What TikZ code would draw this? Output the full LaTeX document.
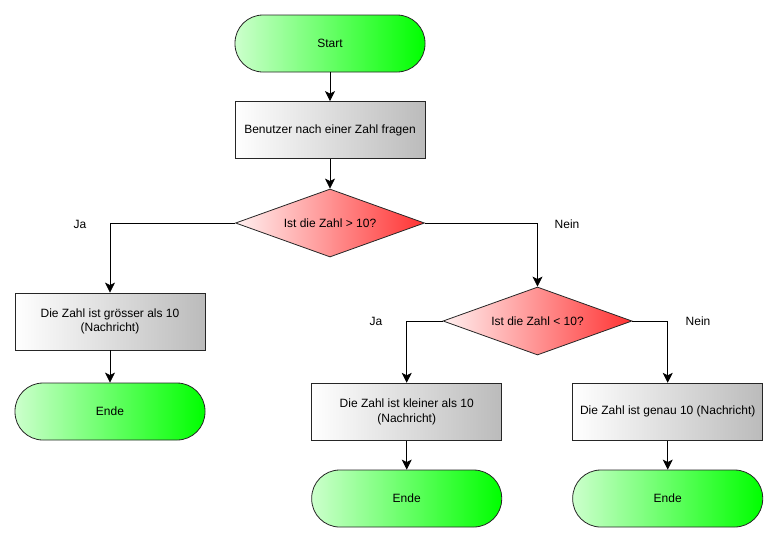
\documentclass[tikz,border=0pt]{standalone}
\usepackage{fontspec}
\setmainfont{Liberation Sans}
\usetikzlibrary{shapes.geometric,arrows.meta}
\definecolor{termL}{HTML}{CCFFCC}
\definecolor{termR}{HTML}{00FF00}
\definecolor{procL}{HTML}{FFFFFF}
\definecolor{procR}{HTML}{BBBBBB}
\definecolor{decL}{HTML}{FFF0F0}
\definecolor{decR}{HTML}{FF3333}
\tikzset{
  labelfont/.style={font=\fontsize{12}{14.6}\selectfont},
  terminal/.style={draw=black!85, line width=0.8pt, rounded corners=28pt,
    minimum width=190pt, minimum height=57pt, inner sep=0pt,
    left color=termL, right color=termR, labelfont},
  process/.style={draw=black!85, line width=0.8pt, rectangle,
    minimum width=190pt, minimum height=57pt, inner sep=0pt, align=center,
    left color=procL, right color=procR, labelfont},
  decision/.style={draw=black!85, line width=0.8pt, diamond, aspect=2.78,
    minimum width=189pt, minimum height=68pt, inner sep=0pt,
    left color=decL, right color=decR, labelfont},
  flow/.style={draw=black, line width=0.8pt, -{Stealth[length=10pt,width=10pt,inset=2.5pt]}},
  branch/.style={labelfont}
}
\begin{document}
\begin{tikzpicture}[x=1pt,y=-1pt]
  \useasboundingbox (0,0) rectangle (778,542);

  % main column
  \node[terminal] (start) at (330,43.5) {Start};
  \node[process]  (ask)   at (330,130)  {Benutzer nach einer Zahl fragen};
  \node[decision] (gt)    at (330,223)  {Ist die Zahl > 10?};

  % left branch: greater than ten
  \node[process]  (big)   at (110,321.5) {Die Zahl ist grösser als 10\\(Nachricht)};
  \node[terminal] (end1)  at (110,411.5) {Ende};

  % right branch: second decision
  \node[decision] (lt)    at (537.5,321) {Ist die Zahl < 10?};
  \node[process]  (small) at (406.7,411.7) {Die Zahl ist kleiner als 10\\(Nachricht)};
  \node[terminal] (end2)  at (406.7,498.5) {Ende};
  \node[process]  (equal) at (667.7,411.7) {Die Zahl ist genau 10 (Nachricht)};
  \node[terminal] (end3)  at (667.7,498.5) {Ende};

  % branch labels
  \node[branch] (ja1)   at (80,224)  {Ja};
  \node[branch] (nein1) at (567,224) {Nein};
  \node[branch] (ja2)   at (376,321) {Ja};
  \node[branch] (nein2) at (698,321) {Nein};

  % connectors
  \draw[flow] (start.south) -- (ask.north);
  \draw[flow] (ask.south) -- (gt.north);
  \draw[flow] (gt.west) -| (big.north);
  \draw[flow] (big.south) -- (end1.north);
  \draw[flow] (gt.east) -| (lt.north);
  \draw[flow] (lt.west) -| (small.north);
  \draw[flow] (small.south) -- (end2.north);
  \draw[flow] (lt.east) -| (equal.north);
  \draw[flow] (equal.south) -- (end3.north);
\end{tikzpicture}
\end{document}
